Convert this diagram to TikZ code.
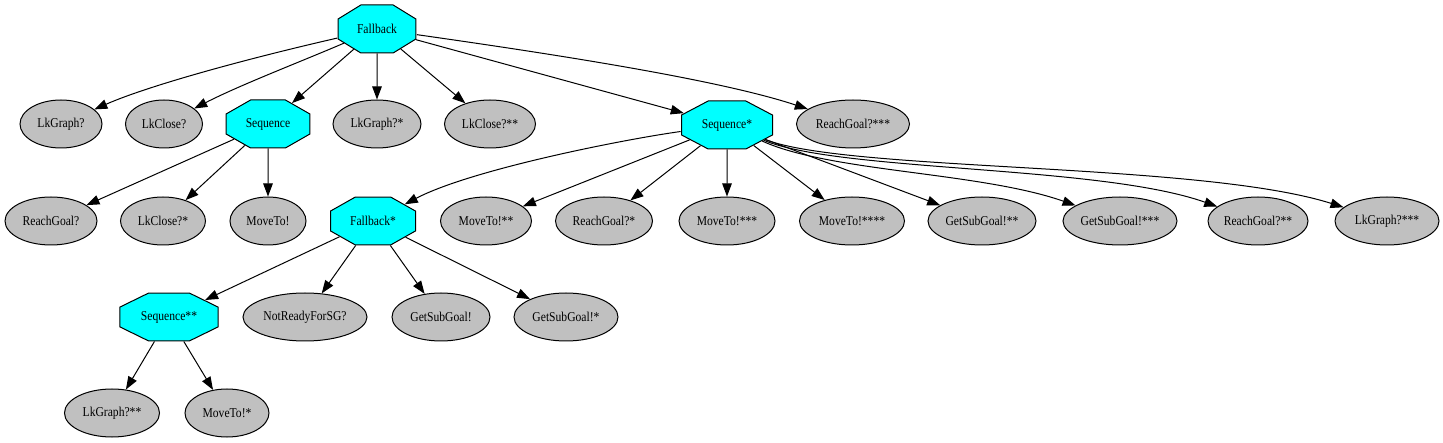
\documentclass[tikz,border=0pt]{standalone}
\usepackage{fontspec}
\usepackage{graphicx}
\setmainfont{Liberation Serif}[FakeStretch=0.86]
\usetikzlibrary{shapes.geometric,arrows.meta}
\definecolor{leafgray}{RGB}{192,192,192}
\definecolor{ctrlcyan}{RGB}{0,255,255}
\newcommand{\octlabel}[2]{\scalebox{#1}[1]{#2}}
\tikzset{
  gvfont/.style={font=\fontsize{13.5}{16}\selectfont},
  leaf/.style={ellipse, draw, fill=leafgray, line width=1pt, minimum height=48pt, inner sep=0pt, gvfont, minimum width=#1},
  ctrl/.style={regular polygon, regular polygon sides=8, minimum size=51.95pt, inner sep=0pt, draw, fill=ctrlcyan, line width=1pt, gvfont, transform shape, xscale=#1},
  arr/.style={-{Triangle[length=13pt,width=9.5pt]}, line width=1pt}
}
\begin{document}
\begin{tikzpicture}[x=1pt,y=-1pt]
\useasboundingbox (0,0) rectangle (1443,443);
% row 0
\node[ctrl=1.625] (fb) at (377,29) {\octlabel{0.6154}{Fallback}};
% row 1
\node[leaf=82pt] (lg1) at (61,124) {LkGraph?};
\node[leaf=77pt] (lc1) at (164,124) {LkClose?};
\node[ctrl=1.75] (seq) at (268,124) {\octlabel{0.5714}{Sequence}};
\node[leaf=88pt] (lg2) at (377,124) {LkGraph?*};
\node[leaf=91pt] (lc2) at (490,124) {LkClose?**};
\node[ctrl=1.896] (seqs) at (727,125) {\octlabel{0.5275}{Sequence*}};
\node[leaf=113pt] (rg4) at (853,124) {ReachGoal?***};
% row 2
\node[leaf=92pt] (rg1) at (51,221) {ReachGoal?};
\node[leaf=85pt] (lc3) at (163,221) {LkClose?*};
\node[leaf=76pt] (mt1) at (268,221) {MoveTo!};
\node[ctrl=1.771] (fbs) at (373,221) {\octlabel{0.5647}{Fallback*}};
\node[leaf=91pt] (mt3) at (486,221) {MoveTo!**};
\node[leaf=97pt] (rg2) at (604,221) {ReachGoal?*};
\node[leaf=96pt] (mt4) at (727,221) {MoveTo!***};
\node[leaf=105pt] (mt5) at (852,221) {MoveTo!****};
\node[leaf=108pt] (gs3) at (982,221) {GetSubGoal!**};
\node[leaf=114pt] (gs4) at (1120,221) {GetSubGoal!***};
\node[leaf=100pt] (rg3) at (1258,221) {ReachGoal?**};
\node[leaf=104pt] (lg4) at (1387,221) {LkGraph?***};
% row 3
\node[ctrl=2.042] (seqss) at (169,317) {\octlabel{0.4898}{Sequence**}};
\node[leaf=124pt] (nr) at (305,317) {NotReadyForSG?};
\node[leaf=98pt] (gs1) at (441,317) {GetSubGoal!};
\node[leaf=104pt] (gs2) at (566,317) {GetSubGoal!*};
% row 4
\node[leaf=95pt] (lg3) at (112,413) {LkGraph?**};
\node[leaf=84pt] (mt2) at (227,413) {MoveTo!*};
% edges
\draw[arr] (fb) .. controls (250,58) and (150,85) .. (lg1);
\draw[arr] (fb) .. controls (300,62) and (240,85) .. (lc1);
\draw[arr] (fb) -- (seq);
\draw[arr] (fb) -- (lg2);
\draw[arr] (fb) -- (lc2);
\draw[arr] (fb) -- (seqs);
\draw[arr] (fb) .. controls (560,55) and (720,80) .. (rg4);
\draw[arr] (seq) -- (rg1);
\draw[arr] (seq) -- (lc3);
\draw[arr] (seq) -- (mt1);
\draw[arr] (seqs) .. controls (620,140) and (470,170) .. (fbs);
\draw[arr] (seqs) -- (mt3);
\draw[arr] (seqs) -- (rg2);
\draw[arr] (seqs) -- (mt4);
\draw[arr] (seqs) -- (mt5);
\draw[arr] (seqs) -- (gs3);
\draw[arr] (seqs) .. controls (830,172) and (980,172) .. (gs4);
\draw[arr] (seqs) .. controls (840,172) and (1100,165) .. (rg3);
\draw[arr] (seqs) .. controls (850,172) and (1200,162) .. (lg4);
\draw[arr] (fbs) -- (seqss);
\draw[arr] (fbs) -- (nr);
\draw[arr] (fbs) -- (gs1);
\draw[arr] (fbs) -- (gs2);
\draw[arr] (seqss) -- (lg3);
\draw[arr] (seqss) -- (mt2);
\end{tikzpicture}
\end{document}
